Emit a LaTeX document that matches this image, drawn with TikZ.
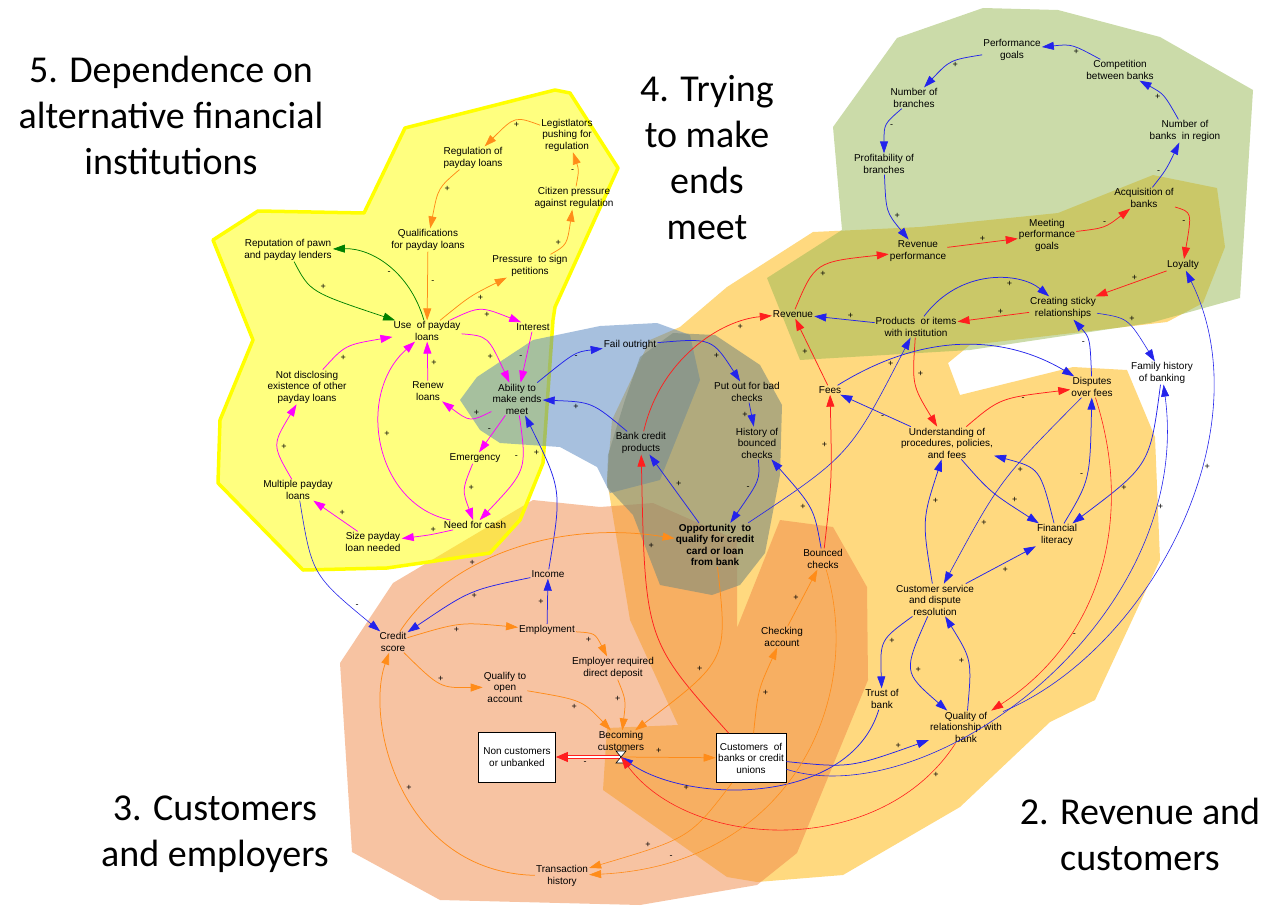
\documentclass[tikz,border=0pt]{standalone}
\usepackage{fontspec}
\setmainfont{Liberation Sans}
\newfontfamily\titlefont{Carlito}
\usetikzlibrary{arrows.meta}

\definecolor{cOrg}{RGB}{255,140,25}
\definecolor{cBlu}{RGB}{35,35,235}
\definecolor{cRed}{RGB}{255,30,30}
\definecolor{cMag}{RGB}{255,0,255}
\definecolor{cGrn}{RGB}{0,128,0}
\definecolor{rgYel}{RGB}{255,255,0}
\definecolor{rgOrg}{RGB}{255,179,0}
\definecolor{rgPch}{RGB}{240,135,70}
\definecolor{rgGrn}{RGB}{151,184,83}
\definecolor{rgBlu}{RGB}{79,129,189}
\definecolor{rgGry}{RGB}{125,140,125}

\tikzset{
  var/.style={font=\fontsize{10}{11.5}\selectfont,align=center,inner sep=1pt},
  stock/.style={var,draw,fill=white,line width=.8pt,inner sep=3pt},
  sgn/.style={font=\fontsize{9}{9}\selectfont,inner sep=1.5pt},
  lnk/.style={line width=.75pt,-{Triangle[length=12pt,width=8pt]}},
  org/.style={lnk,cOrg},
  blu/.style={lnk,cBlu},
  rd/.style={lnk,cRed},
  mag/.style={lnk,cMag},
  grn/.style={lnk,cGrn},
  ttl/.style={font=\titlefont\fontsize{38}{46}\selectfont,align=center,inner sep=0pt}
}

\begin{document}
\begin{tikzpicture}[x=1pt,y=-1pt]
\useasboundingbox (0,0) rectangle (1281,920);

% regions
\fill[rgOrg,opacity=.5] (680,327) -- (727,287) -- (813,232) -- (920,227) -- (1058,213) -- (1153,175)
  -- (1217,188) -- (1225,247) -- (1203,303) -- (1167,322) -- (970,345) -- (948,363) -- (960,395)
  -- (1073,367) -- (1127,370) -- (1155,437) -- (1160,560) -- (1095,700) -- (1050,722) -- (960,807)
  -- (843,875) -- (757,882) -- (727,877) -- (603,790) -- (607,728) -- (678,725) -- (630,620)
  -- (607,480) -- (612,420) -- (650,340) -- cycle;
\fill[rgPch,opacity=.5] (340,663) -- (393,583) -- (533,500) -- (600,507) -- (653,503) -- (737,540)
  -- (737,628) -- (780,520) -- (833,527) -- (867,587) -- (868,680) -- (797,853) -- (757,885)
  -- (640,905) -- (440,900) -- (352,852) -- cycle;
\fill[rgGrn,opacity=.5] (833,127) -- (897,38) -- (983,8) -- (1058,10) -- (1160,37) -- (1253,90)
  -- (1240,298) -- (1150,323) -- (970,350) -- (800,360) -- (767,278) -- (842,230) -- cycle;
\filldraw[fill=rgYel,fill opacity=.5,draw=rgYel,line width=3.5pt,line join=round]
  (213,240) -- (258,211) -- (364,213) -- (405,128) -- (555,90) -- (570,93) -- (618,168)
  -- (555,307) -- (553,320) -- (543,463) -- (520,520) -- (490,553) -- (387,568) -- (303,570)
  -- (218,483) -- (220,420) -- (253,340) -- cycle;
\fill[rgBlu,opacity=.5] (460,400) -- (477,377) -- (533,340) -- (600,326) -- (657,323) -- (690,335)
  -- (700,380) -- (660,480) -- (610,493) -- (597,467) -- (560,447) -- (500,443) -- (480,430) -- cycle;
\fill[rgGry,opacity=.6] (640,357) -- (673,333) -- (715,335) -- (760,365) -- (782,405) -- (780,475)
  -- (765,553) -- (740,585) -- (712,595) -- (660,585) -- (633,515) -- (607,487) -- (608,455)
  -- (625,400) -- cycle;

% titles
\node[ttl] (t5) at (171,115) {5. Dependence on\\alternative financial\\institutions};
\node[ttl] (t4) at (707,158) {4. Trying\\to make\\ends\\meet};
\node[ttl] (t3) at (215,834) {3. Customers\\and employers};
\node[ttl] (t2) at (1140,834) {2. Revenue and\\customers};

% variables
\node[var] (leg) at (567,135) {Legistlators\\pushing for\\regulation};
\node[var] (reg) at (473,158) {Regulation of\\payday loans};
\node[var] (cit) at (574,198) {Citizen pressure\\against regulation};
\node[var] (qual) at (428,240) {Qualifications\\for payday loans};
\node[var] (rep) at (288,250) {Reputation of pawn\\and payday lenders};
\node[var] (pres) at (530,266) {Pressure\ \ to sign\\petitions};
\node[var] (use) at (427,331) {Use\ \ of payday\\loans};
\node[var] (int) at (533,327) {Interest};
\node[var] (nd) at (307,387) {Not disclosing\\existence of other\\payday loans};
\node[var] (ren) at (428,391) {Renew\\loans};
\node[var] (abl) at (517,399) {Ability to\\make ends\\meet};
\node[var] (emg) at (475,458) {Emergency};
\node[var] (mult) at (298,490) {Multiple payday\\loans};
\node[var] (cash) at (475,525) {Need for cash};
\node[var] (size) at (373,542) {Size payday\\loan needed};
\node[var] (fail) at (630,345) {Fail outright};
\node[var] (put) at (747,392) {Put out for bad\\checks};
\node[var] (hist) at (757,443) {History of\\bounced\\checks};
\node[var] (bcp) at (641,443) {Bank credit\\products};
\node[var,font=\fontsize{10}{11.5}\selectfont\bfseries] (opp) at (715,545) {Opportunity\ \ to\\qualify for credit\\card or loan\\from bank};
\node[var] (bnc) at (823,559) {Bounced\\checks};
\node[var] (fees) at (830,390) {Fees};
\node[var] (rev) at (793,314) {Revenue};
\node[var] (revp) at (918,251) {Revenue\\performance};
\node[var] (meet) at (1047,235) {Meeting\\performance\\goals};
\node[var] (acq) at (1144,198) {Acquisition of\\banks};
\node[var] (loy) at (1183,265) {Loyalty};
\node[var] (sticky) at (1063,308) {Creating sticky\\relationships};
\node[var] (prod) at (916,327) {Products\ \ or items\\with institution};
\node[var] (perf) at (1012,50) {Performance\\goals};
\node[var] (comp) at (1120,70) {Competition\\between banks};
\node[var] (nbr) at (914,98) {Number of\\branches};
\node[var] (nbk) at (1185,131) {Number of\\banks\ \ in region};
\node[var] (prof) at (884,164) {Profitability of\\branches};
\node[var] (fam) at (1162,373) {Family history\\of banking};
\node[var] (disp) at (1092,387) {Disputes\\over fees};
\node[var] (und) at (947,443) {Understanding of\\procedures, policies,\\and fees};
\node[var] (fin) at (1057,535) {Financial\\literacy};
\node[var] (cserv) at (935,600) {Customer service\\and dispute\\resolution};
\node[var] (trust) at (882,699) {Trust of\\bank};
\node[var] (qrel) at (966,727) {Quality of\\relationship with\\bank};
\node[var] (chk) at (782,637) {Checking\\account};
\node[var] (inc) at (548,574) {Income};
\node[var] (cred) at (393,642) {Credit\\score};
\node[var] (emp) at (547,630) {Employment};
\node[var] (edd) at (613,668) {Employer required\\direct deposit};
\node[var] (qopen) at (505,687) {Qualify to\\open\\account};
\node[var] (becm) at (621,741) {Becoming\\customers};
\node[stock,minimum width=77pt,minimum height=50pt] (non) at (517,757) {Non customers\\or unbanked};
\node[stock,minimum width=70pt,minimum height=49pt,inner sep=1pt] (cust) at (751,758) {Customers\ \ of\\banks or credit\\unions};
\node[var] (trans) at (562,876) {Transaction\\history};
\coordinate (vlv) at (621,757);

% flow through the valve
\draw[cRed,line width=.9pt,double=white,double distance=1.3pt,-{Triangle[length=12pt,width=10pt]}]
  (vlv) -- node[sgn,pos=.55,below=3pt,black]{-} (non);
\draw[org] (vlv) -- node[sgn,pos=.4,above=2pt,black]{+} (cust);
\draw[line width=.6pt,fill=white] (616,751) -- (626,751) -- (616,763) -- (626,763) -- cycle;

% payday loop
\draw[org] (leg) .. controls (515,116) .. node[sgn,pos=.45,below,black]{+} (reg);
\draw[org] (reg) .. controls (438,188) .. node[sgn,pos=.45,right=2pt,black]{+} (qual);
\draw[org] (qual) -- node[sgn,pos=.45,right=2pt,black]{-} (use);
\draw[org] (use) .. controls (470,296) .. node[sgn,pos=.6,below right,black]{+} (pres);
\draw[org] (pres) .. controls (567,245) .. node[sgn,pos=.45,left=2pt,black]{+} (cit);
\draw[org] (cit) .. controls (579,170) .. node[sgn,pos=.45,left=2pt,black]{-} (leg);
\draw[grn] (use) .. controls (410,272) and (372,248) .. node[sgn,pos=.45,below left,black]{-} (rep);
\draw[grn] (rep) .. controls (310,292) .. node[sgn,pos=.5,above right,black]{+} (use);
\draw[mag] (use) .. controls (480,306) .. node[sgn,pos=.6,below,black]{+} (int);
\draw[mag] (use) .. controls (488,336) .. node[sgn,pos=.7,below left,black]{+} (abl);
\draw[mag] (int) -- node[sgn,pos=.5,left=2pt,black]{-} (abl);
\draw[mag] (abl) .. controls (470,422) .. node[sgn,pos=.3,above,black]{+} (ren);
\draw[mag] (ren) -- node[sgn,pos=.45,right=2pt,black]{+} (use);
\draw[mag] (abl) -- node[sgn,pos=.4,left=2pt,black]{-} (emg);
\draw[mag] (abl) .. controls (527,470) .. node[sgn,pos=.35,left=3pt,black]{-} (cash);
\draw[mag] (emg) .. controls (462,490) .. node[sgn,pos=.45,right=2pt,black]{+} (cash);
\draw[mag] (cash) .. controls (375,505) and (355,395) .. node[sgn,pos=.55,right=2pt,black]{+} (use);
\draw[mag] (cash) .. controls (430,535) .. node[sgn,pos=.4,above,black]{+} (size);
\draw[mag] (size) -- node[sgn,pos=.45,above right,black]{+} (mult);
\draw[mag] (mult) .. controls (272,445) .. node[sgn,pos=.45,right=2pt,black]{+} (nd);
\draw[mag] (nd) .. controls (345,345) .. node[sgn,pos=.3,below right,black]{+} (use);

% ability and credit
\draw[blu] (abl) .. controls (575,352) .. node[sgn,pos=.55,below,black]{-} (fail);
\draw[blu] (fail) .. controls (712,338) .. node[sgn,pos=.75,left=2pt,black]{+} (put);
\draw[blu] (put) -- node[sgn,pos=.5,left=2pt,black]{+} (hist);
\draw[blu] (hist) .. controls (760,480) .. node[sgn,pos=.6,left=2pt,black]{-} (opp);
\draw[blu] (opp) -- node[sgn,pos=.5,above right,black]{+} (bcp);
\draw[blu] (bcp) .. controls (592,402) .. node[sgn,pos=.7,below,black]{+} (abl);
\draw[blu] (inc) .. controls (562,490) .. node[sgn,pos=.8,left=2pt,black]{+} (abl);
\draw[blu,line width=.6pt] (opp) .. controls (850,455) .. node[sgn,pos=.92,left=2pt,black]{+} (prod);
\draw[blu] (bnc) .. controls (814,508) .. node[sgn,pos=.5,left=2pt,black]{+} (hist);

% revenue
\draw[rd] (bcp) .. controls (660,360) and (720,320) .. node[sgn,pos=.8,below,black]{+} (rev);
\draw[rd] (cust) .. controls (645,640) .. node[sgn,pos=.8,right=3pt,black]{+} (bcp);
\draw[rd] (bnc) .. controls (832,480) .. node[sgn,pos=.75,left=2pt,black]{+} (fees);
\draw[rd] (fees) -- node[sgn,pos=.5,left=2pt,black]{+} (rev);
\draw[rd] (rev) .. controls (815,262) .. node[sgn,pos=.45,below right,black]{+} (revp);
\draw[rd] (revp) -- node[sgn,pos=.5,above,black]{+} (meet);
\draw[rd] (meet) .. controls (1105,228) .. node[sgn,pos=.5,above,black]{-} (acq);
\draw[rd] (acq) .. controls (1192,212) .. node[sgn,pos=.6,left=2pt,black]{-} (loy);
\draw[rd] (loy) -- node[sgn,pos=.45,above,black]{+} (sticky);
\draw[rd] (sticky) -- node[sgn,pos=.4,above,black]{+} (prod);
\draw[blu] (prod) -- node[sgn,pos=.4,above,black]{+} (rev);
\draw[blu] (prod) .. controls (960,268) and (1020,272) .. node[sgn,pos=.65,below,black]{+} (sticky);
\draw[rd] (prod) .. controls (912,385) .. node[sgn,pos=.35,right=2pt,black]{+} (und);
\draw[blu] (fees) .. controls (930,328) and (1010,338) .. (disp);
\draw[blu] (und) -- node[sgn,pos=.4,below,black]{-} (fees);
\draw[rd] (und) .. controls (1000,398) .. node[sgn,pos=.7,below,black]{-} (disp);
\draw[blu] (disp) .. controls (1090,338) .. node[sgn,pos=.45,left=2pt,black]{-} (sticky);
\draw[blu,line width=.6pt] (sticky) .. controls (1128,318) .. node[sgn,pos=.5,above right,black]{+} (fam);
\draw[blu] (fam) .. controls (1150,465) .. node[sgn,pos=.75,right=2pt,black]{+} (fin);
\draw[blu] (fin) .. controls (1090,480) .. node[sgn,pos=.5,left=2pt,black]{-} (disp);
\draw[blu] (und) .. controls (990,492) .. node[sgn,pos=.75,above right,black]{+} (fin);
\draw[blu] (fin) .. controls (1040,468) .. node[sgn,pos=.7,below left,black]{+} (und);
\draw[blu,line width=.6pt] (disp) .. controls (1000,480) .. node[sgn,pos=.75,right=2pt,black]{+} (cserv);
\draw[blu] (cserv) .. controls (922,520) .. node[sgn,pos=.7,right=2pt,black]{+} (und);
\draw[blu] (cserv) -- node[sgn,pos=.5,below right,black]{+} (fin);
\draw[rd,line width=.6pt] (disp) .. controls (1135,520) and (1100,640) .. node[sgn,pos=.7,right=2pt,black]{-} (qrel);

% customer service and quality
\draw[blu] (cserv) .. controls (880,640) .. node[sgn,pos=.45,right=2pt,black]{+} (trust);
\draw[blu] (cserv) .. controls (903,672) .. node[sgn,pos=.5,right=2pt,black]{+} (qrel);
\draw[blu] (qrel) .. controls (972,660) .. node[sgn,pos=.5,left=2pt,black]{+} (cserv);
\draw[blu] (cust) .. controls (850,768) .. node[sgn,pos=.85,above,black]{+} (qrel);
\draw[blu,line width=.6pt] (qrel) .. controls (1150,650) and (1265,430) .. node[sgn,pos=.62,right=2pt,black]{+} (loy);
\draw[blu,line width=.6pt] (cust) .. controls (930,815) and (1195,620) .. node[sgn,pos=.82,right=2pt,black]{+} (fam);
\draw[blu] (trust) .. controls (850,805) and (690,805) .. node[sgn,pos=.75,below,black]{+} (vlv);
\draw[rd,line width=.6pt] (qrel) .. controls (880,860) and (690,850) .. node[sgn,pos=.1,right=2pt,black]{+} (vlv);

% bank performance loop
\draw[blu] (comp) .. controls (1072,44) .. node[sgn,pos=.4,below,black]{+} (perf);
\draw[blu] (perf) .. controls (950,60) .. node[sgn,pos=.4,below,black]{+} (nbr);
\draw[blu] (nbr) .. controls (884,124) .. node[sgn,pos=.5,right=2pt,black]{-} (prof);
\draw[blu] (prof) .. controls (886,212) .. node[sgn,pos=.6,right=2pt,black]{+} (revp);
\draw[blu] (acq) .. controls (1166,170) .. node[sgn,pos=.4,left=2pt,black]{-} (nbk);
\draw[blu] (nbk) .. controls (1164,94) .. node[sgn,pos=.45,left=2pt,black]{+} (comp);

% customers and employers
\draw[org] (cred) .. controls (450,555) and (560,520) .. node[sgn,pos=.35,above,black]{+} (opp);
\draw[blu] (inc) .. controls (470,590) .. node[sgn,pos=.45,below,black]{+} (cred);
\draw[blu] (emp) -- node[sgn,pos=.5,left=2pt,black]{+} (inc);
\draw[blu,line width=.6pt] (mult) .. controls (312,575) .. node[sgn,pos=.85,above right,black]{-} (cred);
\draw[org] (cred) .. controls (460,622) .. node[sgn,pos=.45,below,black]{+} (emp);
\draw[org] (emp) .. controls (595,633) .. node[sgn,pos=.45,below left,black]{+} (edd);
\draw[org] (cred) .. controls (440,688) .. node[sgn,pos=.5,above,black]{+} (qopen);
\draw[org] (qopen) .. controls (582,700) .. node[sgn,pos=.5,below left,black]{+} (becm);
\draw[org] (edd) .. controls (626,700) .. node[sgn,pos=.45,left=2pt,black]{+} (becm);
\draw[org] (opp) .. controls (728,660) .. node[sgn,pos=.6,left=3pt,black]{+} (becm);
\draw[org] (cust) .. controls (758,690) .. node[sgn,pos=.45,right=2pt,black]{+} (chk);
\draw[org] (chk) -- node[sgn,pos=.5,left=2pt,black]{+} (bnc);
\draw[org,line width=.6pt] (cust) .. controls (690,838) .. node[sgn,pos=.75,above,black]{+} (trans);
\draw[org,line width=.6pt] (bnc) .. controls (865,700) and (790,865) .. node[sgn,pos=.85,above,black]{-} (trans);
\draw[org] (trans) .. controls (400,872) and (365,720) .. node[sgn,pos=.5,right=2pt,black]{+} (cred);
\end{tikzpicture}
\end{document}
